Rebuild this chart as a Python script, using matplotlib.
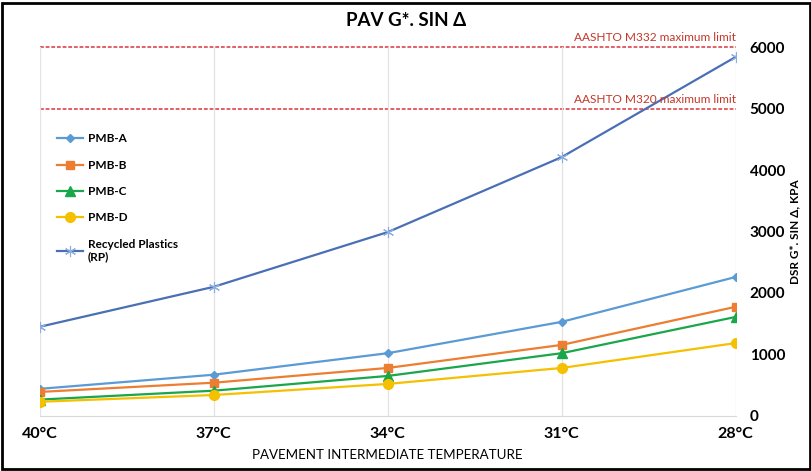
import matplotlib.pyplot as plt
from matplotlib.patches import Rectangle

plt.rcParams['font.family'] = ['Lato', 'DejaVu Sans']

# temperatures (category axis)
temps = ['40°C', '37°C', '34°C', '31°C', '28°C']

# DSR G*.sin(delta) values, kPa
pmb_a = [440, 670, 1020, 1530, 2260]
pmb_b = [390, 540, 780, 1155, 1775]
pmb_c = [265, 410, 650, 1020, 1610]
pmb_d = [230, 340, 520, 780, 1185]
rp = [1450, 2100, 2990, 4210, 5840]

limit_names = ['AASHTO M332 maximum limit', 'AASHTO M320 maximum limit']
limit_values = [6000, 5000]

fig = plt.figure(figsize=(8.12, 4.71), dpi=100)
ax = fig.add_axes([0.049, 0.117, 0.857, 0.783])

x = list(range(len(temps)))
ax.plot(x, pmb_a, color='#5b9bd5', lw=1.6, marker='D', ms=4.5, label='PMB-A')
ax.plot(x, pmb_b, color='#ed7d31', lw=1.6, marker='s', ms=6, label='PMB-B')
ax.plot(x, pmb_c, color='#1aa64a', lw=1.6, marker='^', ms=6.5, label='PMB-C')
ax.plot(x, pmb_d, color='#f5c000', lw=1.6, marker='o', ms=7, label='PMB-D')
ax.plot(x, rp, color='#4a6fb5', lw=1.6, marker=(6, 2, 0), ms=8, mew=0.8,
        mec='#8aaee0', label='Recycled Plastics\n(RP)')

# specification limits
for name, val in zip(limit_names, limit_values):
    ax.axhline(val, color='#d9363e', lw=1.1, ls=(0, (2.5, 1.2)), clip_on=False, zorder=1)
    ax.text(x[-1], val + 60, name, color='#c0392b', fontsize=8.6,
            ha='right', va='bottom')

ax.set_xlim(0, len(temps) - 1)
ax.set_ylim(0, 6000)
ax.set_xticks(x)
ax.set_xticklabels(temps, fontsize=11.5, fontweight='bold')
ax.set_yticks(range(0, 6001, 1000))
ax.yaxis.tick_right()
ax.tick_params(axis='y', length=0, pad=10, labelsize=11)
ax.tick_params(axis='x', length=0, pad=8)
for lab in ax.get_yticklabels():
    lab.set_fontweight('bold')

ax.grid(axis='x', color='#e3e3e3', lw=0.9)
for s in ['top', 'left', 'right']:
    ax.spines[s].set_visible(False)
ax.spines['bottom'].set_color('#d9d9d9')

# chart title is centred on the whole chart, not on the plot area
fig.text(0.5, 0.957, 'PAV G*. SIN Δ', fontsize=13.5, fontweight='bold',
         ha='center', va='center')
ax.set_xlabel('PAVEMENT INTERMEDIATE TEMPERATURE', fontsize=9.6, labelpad=6)
ax.yaxis.set_label_position('right')
ax.set_ylabel('DSR G*. SIN Δ, KPA', fontsize=8.5, fontweight='bold', labelpad=3)

leg = ax.legend(loc='upper left', bbox_to_anchor=(0.01, 0.795), frameon=False,
                prop={'size': 8.5, 'weight': 'bold'}, labelspacing=1.3,
                handlelength=2.2, handletextpad=0.4)

fig.patches.append(Rectangle((0.003, 0.004), 0.994, 0.99, transform=fig.transFigure,
                             fill=False, ec='black', lw=2))

fig.savefig('out.png', dpi=100)
